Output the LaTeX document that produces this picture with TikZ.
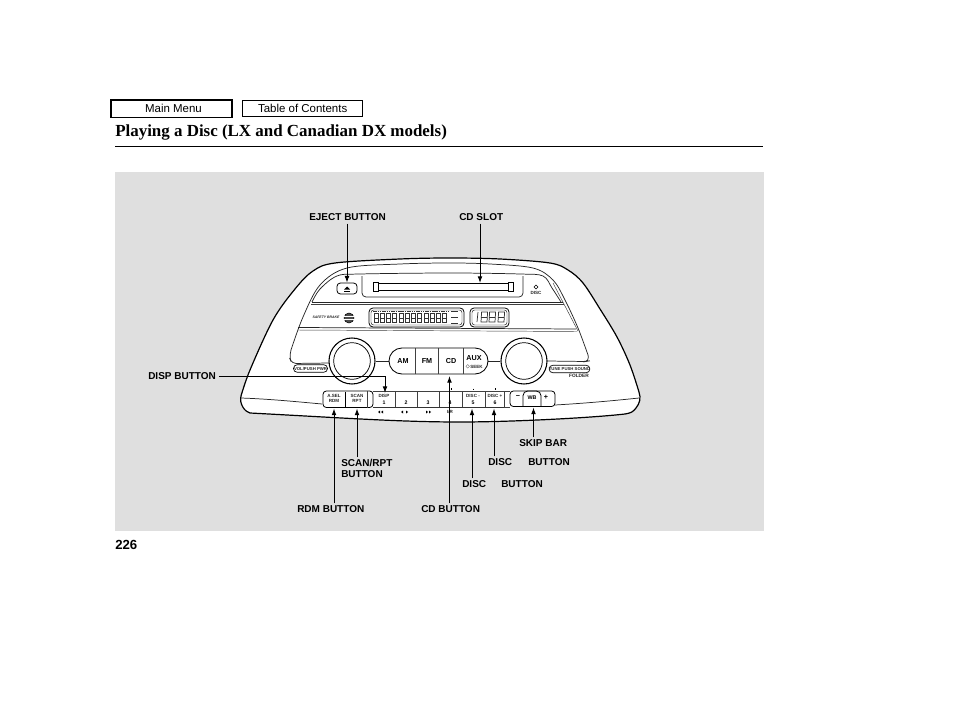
\documentclass[tikz,border=0pt]{standalone}
\usepackage{fontspec}
\setmainfont{Liberation Sans}
\newfontfamily\titlefont{Liberation Serif}
\usetikzlibrary{arrows.meta}
\newcommand{\pxfont}[1]{\fontsize{#1}{#1}\selectfont}
\definecolor{panelgray}{HTML}{DFDFDF}
\tikzset{
  x=0.75pt,y=-0.75pt,
  callout/.style={font=\pxfont{7.5pt}\bfseries,inner sep=0pt,anchor=base west,align=left},
  lead/.style={draw=black,line width=0.7pt,-{Latex[length=5pt,width=3.6pt]}},
  body/.style={draw=black,line width=0.9pt},
  trim/.style={draw=black!85,line width=0.55pt},
  thinline/.style={draw=black!75,line width=0.35pt},
  navbtn/.style={draw=black,fill=white,inner sep=0pt,font=\pxfont{8.6pt}},
  tiny/.style={font=\pxfont{3.4pt}\bfseries,inner sep=0pt,align=center,text=black!85},
  small/.style={font=\pxfont{5.4pt}\bfseries,inner sep=0pt,align=center},
  pill/.style={draw=black,line width=0.5pt,rounded corners=2.7pt,fill=white,inner sep=0pt},
  knob/.style={circle,draw=black,line width=0.8pt,fill=white,inner sep=0pt},
  seg/.style={draw=black!80,line width=0.35pt}
}
\begin{document}
\begin{tikzpicture}
\useasboundingbox (0,0) rectangle (954,710);
\fill[white] (0,0) rectangle (954,710);

% header
\node[navbtn,line width=1.1pt,minimum width=90.5pt,minimum height=13pt] (mainmenu) at (171.5,108.8) {\hspace{3pt}Main Menu};
\node[navbtn,line width=0.7pt,minimum width=90pt,minimum height=12.5pt] (toc) at (302,108.5) {\hspace{1pt}Table of Contents};
\node[font=\titlefont\bfseries\pxfont{12.7pt},inner sep=0pt,anchor=base west] (title) at (115,137) {Playing a Disc (LX and Canadian DX models)};
\coordinate (ruleL) at (115,147);
\coordinate (ruleR) at (763,147);
\draw[line width=0.75pt] (ruleL) -- (ruleR);
\node[font=\bfseries\pxfont{9.9pt},inner sep=0pt,anchor=base west] (pageno) at (115,549) {226};

% panel
\fill[panelgray] (115,172) rectangle (764,531);

% body
\draw[body,fill=white,line join=round] plot[smooth,tension=0.55] coordinates {(241,396) (250,370) (273,320) (295,289) (313,271) (335,263) (400,259) (450,258) (500,259) (550,263) (568,270) (583,283) (600,309) (617,337) (630,365) (639,392)}
  .. controls (641,398) and (640,403) .. (636,408) .. controls (633,412) and (631,413) .. (625,414)
  .. controls (590,418) and (510,422) .. (460,422) .. controls (400,422) and (345,418) .. (250,413) .. controls (245,412) and (239,404) .. (241,396) -- cycle;
\draw[trim] (241,398) .. controls (270,399) and (300,402) .. (322,404);
\draw[trim] (555,405) .. controls (590,403) and (620,400) .. (639,398);

% upper face
\draw[trim] plot[smooth,tension=0.55] coordinates {(291,350) (303,317) (320,285) (347,268) (400,264) (450,263) (490,264) (533,268) (553,280) (565,300) (578,328) (588,355)};
\draw[trim,rounded corners=3pt] (291,350) -- (289.5,358) -- (292,363.5) -- (330,363);
\draw[trim,rounded corners=3pt] (588,355) -- (589,361) -- (586,361.5) -- (547,361);
\draw[trim] plot[smooth,tension=0.55] coordinates {(312,302) (320,289) (337,276) (360,274) (450,273) (520,274) (543,276) (552,288) (561,302)};
\draw[trim] (312,302) -- (563,302);
\draw[thinline] (311,304.5) -- (564,304.5);
\draw[trim] (298,327.5) -- (576,329);
\draw[thinline] (297,330) -- (577,331.5);
\draw[thinline] (553,283) -- (578,331);

% CD slot area
\draw[trim,rounded corners=3pt] (362,276) -- (362,297) -- (523,297) -- (523,276);
\node[draw=black,line width=0.6pt,rounded corners=2.5pt,fill=white,minimum width=15pt,minimum height=8.2pt,inner sep=0pt] (eject) at (347,288.5) {};
\fill (344,289.5) -- (347,286.5) -- (350,289.5) -- cycle;
\draw[line width=0.4pt] (344,291) -- (350,291);
\draw[line width=0.5pt,fill=white] (373,282.5) rectangle (378,291);
\draw[line width=0.5pt,fill=white] (508,282.5) rectangle (513,291);
\draw[line width=0.45pt] (378,283) -- (508,283);
\draw[line width=0.85pt] (378,290.5) -- (508,290.5);
\coordinate (slot) at (480,283);
\draw[line width=0.4pt] (536,285) -- (538,287) -- (536,289) -- (534,287) -- cycle;
\node[tiny] (disclbl) at (536,293) {DISC};

% display band
\node[tiny,font=\pxfont{2.6pt}\bfseries\itshape] (safety) at (326,317) {SAFETY BRAKE};
\draw[line width=0.4pt,fill=black!70] (349,318) circle (5);
\draw[white,line width=0.3pt] (344,316) -- (354,316) (344,319) -- (354,319);

\draw[line width=0.6pt,rounded corners=3pt] (369,308) rectangle (464,327);
\draw[line width=0.3pt,rounded corners=2pt] (371,310) rectangle (462,325);
\draw[line width=0.55pt,black!80,dash pattern=on 1.2pt off 0.5pt] (373,311) -- (449,311);
\foreach \xx in {374,380,386,392,399,405,411,417,424,430,436,442}{
  \draw[seg] (\xx,313.5) rectangle ++(4.5,9);
  \draw[seg] (\xx,318) -- ++(4.5,0);
}
\draw[seg,line width=0.7pt] (451,311) -- (458,311) (451,317) -- (458,317) (451,323) -- (458,323);

\draw[line width=0.6pt,rounded corners=3pt] (470,308) rectangle (509,327);
\draw[line width=0.3pt,rounded corners=2pt] (472,310) rectangle (507,325);
\draw[seg,line width=0.55pt] (478,312) -- (477,322);
\foreach \xx in {481,489,498}{
  \draw[seg,line width=0.55pt] (\xx+0.6,312) -- (\xx+6.6,312) -- (\xx+6,322) -- (\xx,322) -- cycle;
  \draw[seg,line width=0.55pt] (\xx+0.3,317) -- (\xx+6.3,317);
}

% knobs
\coordinate (capL) at (389,361);
\coordinate (capR) at (488,361);
\node[knob,minimum size=34.5pt] (volouter) at (352,361) {};
\node[knob,line width=0.55pt,minimum size=27.5pt] (volinner) at (352,361) {};
\node[knob,minimum size=34.5pt] (tuneouter) at (524,361) {};
\node[knob,line width=0.55pt,minimum size=27.5pt] (tuneinner) at (524,361) {};
\draw[trim] (volouter) -- (capL);
\draw[trim] (tuneouter) -- (capR);

% mode capsule
\draw[line width=0.65pt,fill=white,rounded corners=9.7pt] (389,348) rectangle (488,374);
\draw[thinline,line width=0.5pt] (415,348) -- (415,374) (438,348) -- (438,374) (463,348) -- (463,374);
\node[small] (am) at (403,361) {AM};
\node[small] (fm) at (427,361.5) {FM};
\node[small] (cd) at (451,361) {CD};
\node[small] (aux) at (474,358) {AUX};
\node[tiny] (seek) at (474,367) {\raisebox{0.2pt}{$\diamond$}SEEK};

% small pills
\node[pill,minimum width=25.5pt,minimum height=5.6pt] (vol) at (310.5,368.5) {};
\node[tiny,font=\pxfont{3.2pt}\bfseries] (vollbl) at (310.5,368.5) {VOL/PUSH PWR};
\node[pill,minimum width=30.5pt,minimum height=5.6pt] (tune) at (569.5,369) {};
\node[tiny,font=\pxfont{3.2pt}\bfseries] (tunelbl) at (569.5,369) {TUNE PUSH SOUND};
\node[tiny,font=\pxfont{3.6pt}\bfseries] (folder) at (579,376) {FOLDER};

% button row
\draw[line width=0.6pt,rounded corners=2.5pt,fill=white] (323,391) rectangle (373,407.5);
\draw[line width=0.5pt] (345,392) -- (345,407);
\draw[thinline,line width=0.45pt] (367,391) -- (367,407.5);
\draw[thinline] (373,391) -- (504,391);
\draw[thinline,line width=0.45pt] (395,391) -- (395,407.5) (417,391) -- (417,407.5) (439,391) -- (439,407.5) (462,391) -- (462,407.5) (485,391) -- (485,407.5) (504,391) -- (504,407.5);
\draw[line width=0.9pt,black!80] (373,407.5) -- (504,407.5);
\draw[line width=0.6pt,rounded corners=2.5pt,fill=white] (510,391) rectangle (555,406.5);
\draw[thinline] (504,391) -- (510,391) (504,407) -- (510,407);
\draw[line width=0.6pt,rounded corners=3.5pt] (523,406) -- (523,391) -- (541,391) -- (541,406);

\node[tiny] (rdmbtn) at (334,398.5) {A.SEL\\[0.3pt]RDM};
\node[tiny] (scanbtn) at (357,398.5) {SCAN\\[0.3pt]RPT};
\node[tiny] (disp) at (384,396) {DISP};
\node[small,font=\pxfont{3.9pt}\bfseries] (n1) at (384,403) {1};
\node[small,font=\pxfont{3.9pt}\bfseries] (n2) at (406,403) {2};
\node[small,font=\pxfont{3.9pt}\bfseries] (n3) at (428,403) {3};
\node[small,font=\pxfont{3.9pt}\bfseries] (n4) at (450,403) {4};
\node[tiny] (discm) at (473,396) {DISC -};
\node[small,font=\pxfont{3.9pt}\bfseries] (n5) at (473,403) {5};
\node[tiny] (discp) at (495,396) {DISC +};
\node[small,font=\pxfont{3.9pt}\bfseries] (n6) at (495,403) {6};
\node[small] (minus) at (518,397) {−};
\node[small] (plus) at (546,397) {+};
\node[small,font=\pxfont{4pt}\bfseries] (wb) at (532,398) {WB};

% symbols under row
\fill (380,410.5) -- (380,413.5) -- (378,412) -- cycle (383,410.5) -- (383,413.5) -- (381,412) -- cycle;
\fill (403,410.5) -- (403,413.5) -- (401,412) -- cycle (406,410.5) -- (406,413.5) -- (408,412) -- cycle;
\fill (426,410.5) -- (426,413.5) -- (428,412) -- cycle (429,410.5) -- (429,413.5) -- (431,412) -- cycle;
\node[tiny] (rlbl) at (450,412) {I/R};
\draw[line width=0.5pt] (451,388) -- (451,390) (473,388.5) -- (473,390) (495,388) -- (495,390);

% callouts
\node[callout] (ejectl) at (309,220.5) {EJECT BUTTON};
\node[callout] (slotl) at (459,220.5) {CD SLOT};
\node[callout] (displ) at (148,379.5) {DISP BUTTON};
\node[callout] (skipl) at (519,446.5) {SKIP BAR};
\node[callout] (disc6l) at (488,465.5) {DISC};
\node[callout] (disc6b) at (528,465.5) {BUTTON};
\node[callout] (disc5l) at (462,487.5) {DISC};
\node[callout] (disc5b) at (501,487.5) {BUTTON};
\node[callout,anchor=north west] (scanl) at (341,459) {SCAN/RPT\\[1pt]BUTTON};
\node[callout] (rdml) at (297,512.5) {RDM BUTTON};
\node[callout] (cdl) at (421,512.5) {CD BUTTON};

% leader targets
\coordinate (tipRdm) at (334,408.5);
\coordinate (tipScan) at (357,408.5);
\coordinate (tipCd) at (449.5,376);
\coordinate (tipD5) at (472,408.5);
\coordinate (tipD6) at (494,408.5);
\coordinate (tipSkip) at (533.5,407.5);
\coordinate (tipDisp) at (385,393);

\draw[lead] ([yshift=-2pt]ejectl.south -| eject) -- (eject.north);
\draw[lead] ([yshift=-2pt]slotl.south -| slot) -- (slot);
\draw[lead] ([xshift=2pt]displ.east) -| (tipDisp);
\draw[lead] ([yshift=1.5pt]rdml.north -| tipRdm) -- (tipRdm);
\draw[lead] ([yshift=1.5pt]scanl.north -| tipScan) -- (tipScan);
\draw[lead] ([yshift=1.5pt]cdl.north -| tipCd) -- (tipCd);
\draw[lead] ([yshift=1.5pt]disc5l.north -| tipD5) -- (tipD5);
\draw[lead] ([yshift=1.5pt]disc6l.north -| tipD6) -- (tipD6);
\draw[lead] ([yshift=1.5pt]skipl.north -| tipSkip) -- (tipSkip);
\end{tikzpicture}
\end{document}
